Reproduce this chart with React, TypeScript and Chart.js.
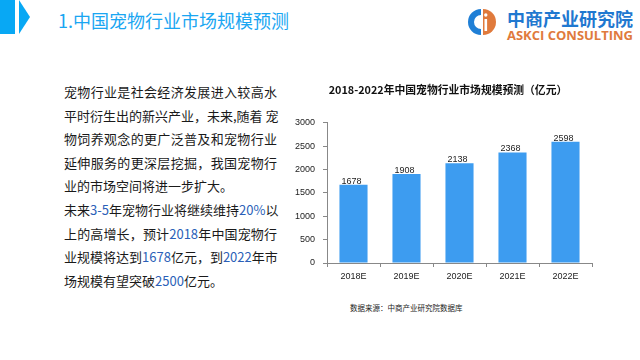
import React, { useEffect, useRef } from "react";
import { Chart, registerables } from "chart.js";

Chart.register(...registerables);

const categories = ["2018E", "2019E", "2020E", "2021E", "2022E"];
const marketSize = [1678, 1908, 2138, 2368, 2598];
const yTicks = [0, 500, 1000, 1500, 2000, 2500, 3000];

const pageTitle = "1.中国宠物行业市场规模预测";
const chartTitle = "2018-2022年中国宠物行业市场规模预测（亿元）";
const sourceNote = "数据来源：中商产业研究院数据库";
const brandCn = "中商产业研究院";
const brandEn = "ASKCI CONSULTING";

// paragraph lines: segments [text, isNumber]
const paragraphLines: Array<Array<[string, boolean]>> = [
  [["宠物行业是社会经济发展进入较高水", false]],
  [["平时衍生出的新兴产业，未来,随着 宠", false]],
  [["物饲养观念的更广泛普及和宠物行业", false]],
  [["延伸服务的更深层挖掘，我国宠物行", false]],
  [["业的市场空间将进一步扩大。", false]],
  [["未来", false], ["3-5", true], ["年宠物行业将继续维持", false], ["20%", true], ["以", false]],
  [["上的高增长，预计", false], ["2018", true], ["年中国宠物行", false]],
  [["业规模将达到", false], ["1678", true], ["亿元，到", false], ["2022", true], ["年市", false]],
  [["场规模有望突破", false], ["2500", true], ["亿元。", false]],
];
const justified = [true, true, true, true, false, true, true, true, false];

const barLabelPlugin = {
  id: "barLabels",
  afterLayout(chart: any) {
    // center the title on the whole canvas rather than the padded box
    if (chart.titleBlock) {
      chart.titleBlock.left = 0;
      chart.titleBlock.right = chart.width;
      chart.titleBlock.width = chart.width;
    }
  },
  afterDatasetsDraw(chart: any) {
    const ctx = chart.ctx;
    const meta = chart.getDatasetMeta(0);
    ctx.save();
    ctx.font = "9px 'Liberation Sans', Arial, sans-serif";
    ctx.fillStyle = "#222";
    ctx.textAlign = "center";
    ctx.textBaseline = "bottom";
    meta.data.forEach((el: any, i: number) => {
      ctx.fillText(String(chart.data.datasets[0].data[i]), el.x - 2, el.y + 1);
    });
    ctx.restore();
  },
};

function BarChart() {
  const ref = useRef<HTMLCanvasElement>(null);
  useEffect(() => {
    if (!ref.current) return;
    const chart = new Chart(ref.current, {
      type: "bar",
      data: {
        labels: categories,
        datasets: [
          {
            data: marketSize,
            backgroundColor: "#3d9cf0",
            categoryPercentage: 1,
            barPercentage: 0.53,
          },
        ],
      },
      options: {
        responsive: false,
        animation: false,
        layout: { padding: { top: 0, right: 24, bottom: 0, left: 0 } },
        plugins: {
          legend: { display: false },
          tooltip: { enabled: false },
          title: {
            display: true,
            text: chartTitle,
            color: "#111",
            font: { family: "'Noto Sans CJK SC', sans-serif", size: 10.8, weight: "bold" },
            padding: { top: 7.5, bottom: 26.5 },
          },
        },
        scales: {
          x: {
            afterFit: (s: any) => {
              s.height = 25;
            },
            grid: {
              display: true,
              drawOnChartArea: false,
              drawTicks: true,
              tickLength: 4,
              color: "#888",
              offset: true,
            },
            border: { display: true, color: "#888", width: 1 },
            ticks: {
              color: "#222",
              font: { family: "'Liberation Sans', Arial, sans-serif", size: 9 },
              padding: 4,
            },
          },
          y: {
            min: 0,
            max: 3000,
            afterFit: (s: any) => {
              s.width = 47;
            },
            afterBuildTicks: (s: any) => {
              s.ticks = yTicks.map((v) => ({ value: v }));
            },
            grid: {
              display: true,
              drawOnChartArea: false,
              drawTicks: true,
              tickLength: 4,
              color: "#888",
            },
            border: { display: true, color: "#888", width: 1 },
            ticks: {
              color: "#222",
              font: { family: "'Liberation Sans', Arial, sans-serif", size: 9 },
              padding: 8,
              callback: (v: any) => String(v),
            },
          },
        },
      },
      plugins: [barLabelPlugin],
    });
    return () => chart.destroy();
  }, []);
  return (
    <canvas
      ref={ref}
      width={336}
      height={212}
      style={{ position: "absolute", left: 280, top: 76, width: 336, height: 212 }}
    />
  );
}

export default function App() {
  return (
    <div
      style={{
        position: "absolute",
        left: 0,
        top: 0,
        width: 640,
        height: 360,
        overflow: "hidden",
        background: "#fff",
      }}
    >
      {/* header decoration */}
      <div style={{ position: "absolute", left: 0, top: 0, width: 15, height: 34, background: "#08a8f4" }} />
      <svg style={{ position: "absolute", left: 0, top: 0 }} width={640} height={50}>
        <polygon points="19,0 19,34 30,17" fill="#08a8f4" />
        {/* logo icon */}
        <path d="M481,9 A13,13 0 0 0 481,35 L481,29 A7,7 0 0 1 481,15 Z" fill="#1f7fd6" />
        <path d="M483,9 A13,13 0 0 1 483,35 Z" fill="#e07a3c" />
        <rect x={484.5} y={19} width={2.6} height={12} fill="#fff" />
        <circle cx={485.8} cy={15} r={1.7} fill="#fff" />
        <text
          x={507}
          y={25.5}
          textLength={126}
          lengthAdjust="spacingAndGlyphs"
          fontFamily="'Noto Sans CJK SC', sans-serif"
          fontWeight="bold"
          fontSize={18}
          fill="#1f78d0"
        >
          {brandCn}
        </text>
        <text
          x={507}
          y={39.5}
          textLength={126}
          lengthAdjust="spacingAndGlyphs"
          fontFamily="'Open Sans', 'Noto Sans', sans-serif"
          fontWeight="bold"
          fontSize={11.5}
          fill="#e07a3c"
        >
          {brandEn}
        </text>
      </svg>
      <div
        style={{
          position: "absolute",
          left: 58,
          top: 8,
          fontFamily: "'Noto Sans CJK SC', sans-serif",
          fontSize: 18,
          lineHeight: "24px",
          color: "#1aa6f2",
          whiteSpace: "nowrap",
        }}
      >
        {pageTitle}
      </div>

      {/* paragraph */}
      <div
        style={{
          position: "absolute",
          left: 64,
          top: 80,
          width: 213,
          fontFamily: "'Noto Sans CJK SC', sans-serif",
          fontSize: 13,
          lineHeight: "23.6px",
          color: "#1a1a1a",
        }}
      >
        {paragraphLines.map((line, i) => (
          <div
            key={i}
            style={{
              whiteSpace: "nowrap",
              textAlign: justified[i] ? "justify" : "left",
              textAlignLast: justified[i] ? "justify" : "left",
              height: 23.6,
            }}
          >
            {line.map(([t, num], j) =>
              num ? (
                <span key={j} style={{ color: "#2b5fb8" }}>
                  {t}
                </span>
              ) : (
                <span key={j}>{t}</span>
              )
            )}
          </div>
        ))}
      </div>

      <BarChart />

      <div
        style={{
          position: "absolute",
          left: 350,
          top: 302,
          fontFamily: "'Noto Sans CJK SC', sans-serif",
          fontSize: 7.5,
          lineHeight: "12px",
          color: "#222",
          whiteSpace: "nowrap",
        }}
      >
        {sourceNote}
      </div>
    </div>
  );
}
